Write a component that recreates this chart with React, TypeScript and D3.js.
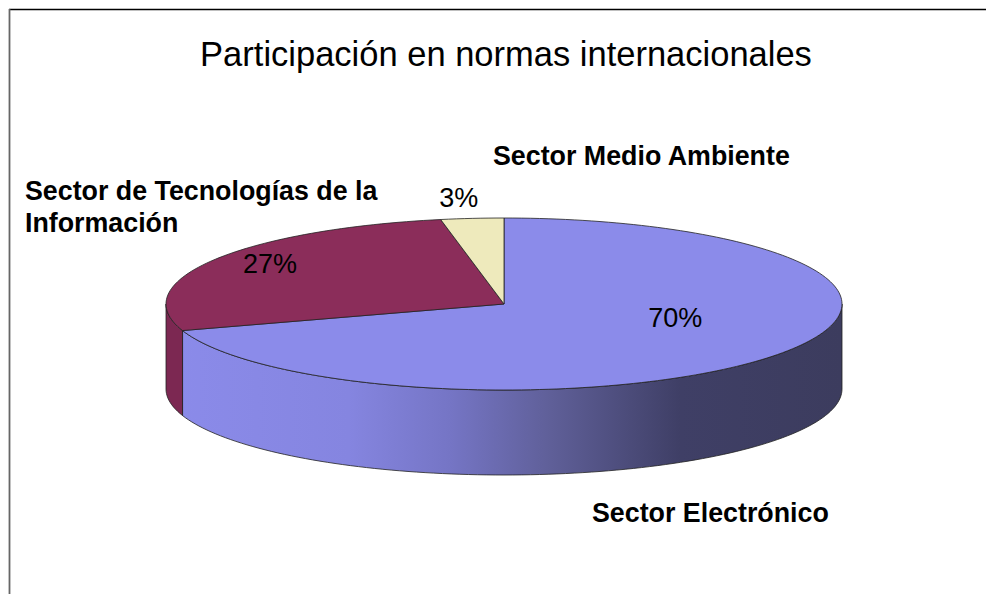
import React from "react";
import * as d3 from "d3";

const title = "Participación en normas internacionales";
const categories = ["Sector Electrónico", "Sector de Tecnologías de la Información", "Sector Medio Ambiente"];
const values = [70, 27, 3];
const categoryLines = [["Sector Electrónico"], ["Sector de Tecnologías de la", "Información"], ["Sector Medio Ambiente"]];

const W = 986;
const H = 594;
const cx = 504, cy = 304, rx = 338, ry = 86, depth = 85;
const topColors = ["#8B8BEA", "#8B2D5A", "#EEEABC"];
const sideColors = ["url(#elecSide)", "#7C2852", "#D8D4A8"];
// layout: percentage label radial factors; category label anchors
const pctFactors = [{ fx: 0.626, fy: 0.26 }, { fx: 0.804, fy: 0.937 }, { fx: 1.42, fy: 1.25 }];
const catAnchors = [{ x: 592, y: 522 }, { x: 25, y: 200 }, { x: 493, y: 165 }];

const pt = (a: number, dy = 0): [number, number] => [cx + rx * Math.sin(a), cy - ry * Math.cos(a) + dy];

export default function App() {
  const pie = d3.pie<number>().sort(null).startAngle(0).endAngle(2 * Math.PI)(values);
  const total = d3.sum(values);
  const line = d3.line();

  const arcPts = (a0: number, a1: number, dy = 0) => {
    const n = Math.max(2, Math.ceil(((a1 - a0) / (2 * Math.PI)) * 240));
    return d3.range(n + 1).map((i) => pt(a0 + ((a1 - a0) * i) / n, dy));
  };

  const topPath = (a0: number, a1: number) => line([[cx, cy], ...arcPts(a0, a1)]) + "Z";
  const sidePath = (a0: number, a1: number) => {
    const s = Math.max(a0, Math.PI / 2);
    const e = Math.min(a1, (3 * Math.PI) / 2);
    if (e <= s) return null;
    return line([...arcPts(s, e), ...arcPts(s, e, depth).reverse()]) + "Z";
  };

  return (
    <svg width={W} height={H} style={{ position: "absolute", left: 0, top: 0, background: "#fff" }}
      fontFamily="'Liberation Sans', Arial, sans-serif">
      <defs>
        <linearGradient id="elecSide" gradientUnits="userSpaceOnUse" x1={cx - rx} x2={cx + rx} y1={0} y2={0}>
          <stop offset="0" stopColor="#8B8BEA" />
          <stop offset="0.27" stopColor="#8585E0" />
          <stop offset="0.42" stopColor="#7575C5" />
          <stop offset="0.57" stopColor="#5F5F98" />
          <stop offset="0.76" stopColor="#3F3F66" />
          <stop offset="1" stopColor="#3C3C5E" />
        </linearGradient>
      </defs>
      <rect x={0} y={0} width={W} height={H} fill="#fff" />
      <line x1={9} x2={W} y1={9.5} y2={9.5} stroke="#000" strokeWidth={1.5} />
      <line x1={9.5} x2={9.5} y1={9} y2={H} stroke="#666" strokeWidth={1.8} />

      <text x={506} y={66} textAnchor="middle" fontSize={34.5} fill="#000">{title}</text>

      {pie.map((d, i) => {
        const p = sidePath(d.startAngle, d.endAngle);
        return p ? <path key={"s" + i} d={p} fill={sideColors[i]} stroke="#222" strokeWidth={0.8} /> : null;
      })}
      {pie.map((d, i) => (
        <path key={"t" + i} d={topPath(d.startAngle, d.endAngle)} fill={topColors[i]} stroke="#222" strokeWidth={0.8} />
      ))}

      {pie.map((d, i) => {
        const mid = (d.startAngle + d.endAngle) / 2;
        const f = pctFactors[i];
        const x = cx + rx * Math.sin(mid) * f.fx;
        const y = cy - ry * Math.cos(mid) * f.fy;
        return (
          <text key={"p" + i} x={x} y={y + 10} textAnchor="middle" fontSize={27} fill="#000">
            {d3.format(".0%")(d.value / total)}
          </text>
        );
      })}

      {categories.map((c, i) => (
        <text key={"c" + i} x={catAnchors[i].x} y={catAnchors[i].y} fontSize={26.8} fontWeight="bold" fill="#000">
          {categoryLines[i].map((l, j) => (
            <tspan key={j} x={catAnchors[i].x} dy={j === 0 ? 0 : 32}>{l}</tspan>
          ))}
        </text>
      ))}
    </svg>
  );
}
